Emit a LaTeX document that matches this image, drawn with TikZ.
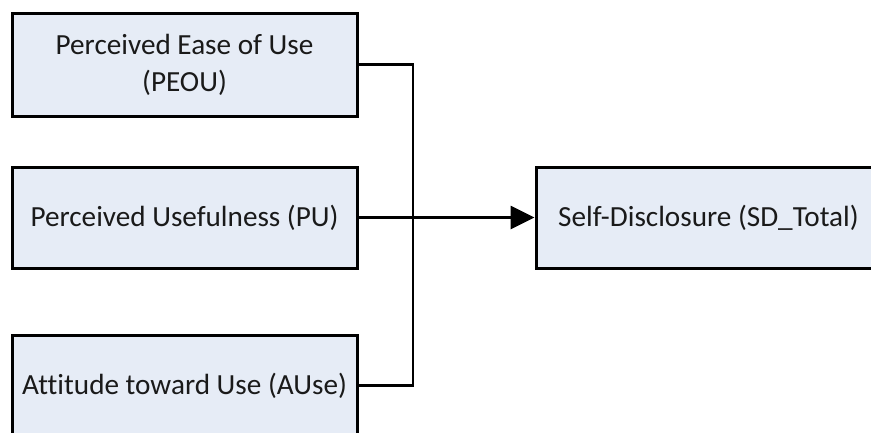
\documentclass[tikz,border=0pt]{standalone}
\usepackage{fontspec}
\setmainfont[Ligatures=CommonOff]{Carlito}
\usetikzlibrary{arrows.meta}
\definecolor{boxfill}{HTML}{E6ECF6}
\definecolor{txt}{HTML}{1A1A1A}
\tikzset{
  varbox/.style={draw=black, line width=3pt, fill=boxfill, minimum width=345pt,
    minimum height=101pt, inner sep=0pt, align=center, text=txt,
    font=\fontsize{29.2}{37}\selectfont},
  conn/.style={draw=black, line width=2.8pt},
}
\begin{document}
\begin{tikzpicture}[x=1pt,y=-1pt]
\useasboundingbox (0,0) rectangle (871,432);
\clip (0,0) rectangle (871,432);
\node[varbox, minimum height=103pt] (peou) at (184.5,64.5) {Perceived Ease of Use\\(PEOU)};
\node[varbox] (pu) at (184.5,217.5) {Perceived Usefulness (PU)};
\node[varbox] (ause) at (184.5,385.5) {Attitude toward Use (AUse)};
\node[varbox] (sd) at (708.5,217.5) {Self-Disclosure (SD\_Total)};
\coordinate (j) at (413,64.5);
\draw[conn] (peou.east) -- (j) |- (ause.east);
\draw[conn, -{Triangle[length=24pt,width=23pt]}] (pu.east) -- (sd.west);
\end{tikzpicture}
\end{document}
